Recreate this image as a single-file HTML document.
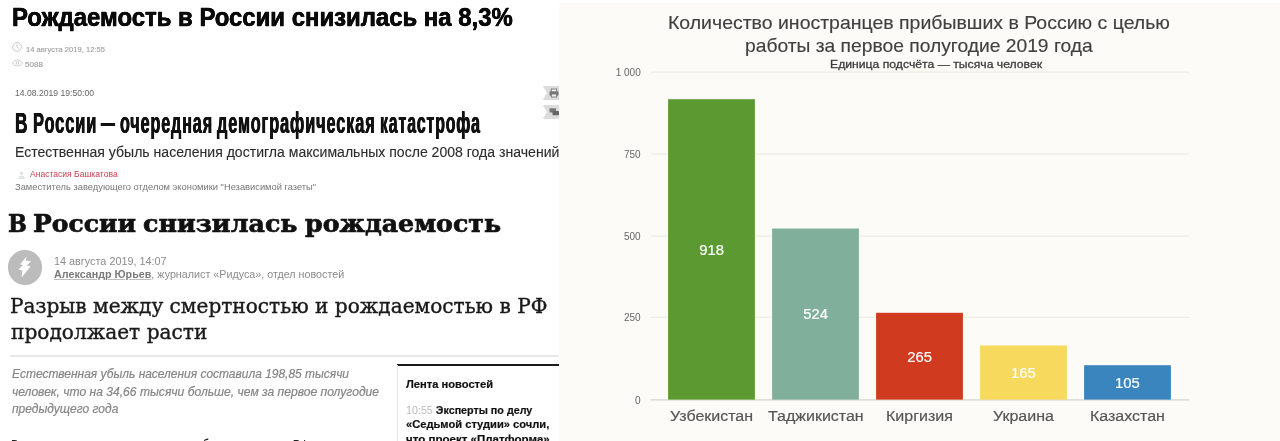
<!DOCTYPE html>
<html lang="ru">
<head>
<meta charset="utf-8">
<title>Рождаемость в России</title>
<style>
html,body{margin:0;padding:0;}
body{width:1280px;height:441px;overflow:hidden;background:#fff;position:relative;font-family:"Liberation Sans",sans-serif;}
.t{position:absolute;white-space:nowrap;line-height:1;transform-origin:0 0;margin:0;padding:0;}
#left{position:absolute;left:0;top:0;width:559px;height:441px;background:#fff;overflow:hidden;}
#right{position:absolute;left:559px;top:3px;width:721px;height:438px;background:#fcfbf7;overflow:hidden;}
#rin{position:absolute;left:0;top:-3px;width:721px;height:441px;}
.g{margin:0;padding:0;font:inherit;}
</style>
</head>
<body>
<div id="left">
  <h1 class="t" style="left:12.14px;top:4.31px;font-family:'Liberation Sans',sans-serif;font-size:26.4px;font-weight:bold;color:#0a0a0a;-webkit-text-stroke:0.3px #0a0a0a;text-shadow:0.3px 0 0 #0a0a0a,-0.3px 0 0 #0a0a0a;transform:scaleX(0.9060);">Рождаемость в России снизилась на 8,3%</h1>
  <svg style="position:absolute;left:12.1px;top:42.1px" width="10" height="10" viewBox="0 0 10 10"><circle cx="5" cy="5" r="4.3" fill="none" stroke="#c6c6c6" stroke-width="0.9"/><path d="M5 2.2V5.2L7 6.6" fill="none" stroke="#c6c6c6" stroke-width="0.9"/></svg>
  <span class="t" style="left:25.73px;top:45.81px;font-family:'Liberation Sans',sans-serif;font-size:8px;color:#a2a2a2;-webkit-text-stroke:0.15px #a2a2a2;transform:scaleX(0.9495);">14 августа 2019, 12:55</span>
  <svg style="position:absolute;left:12px;top:59.2px" width="11" height="8" viewBox="0 0 11 8"><path d="M0.5 4C2 1.9 3.6 1 5.5 1S9 1.9 10.5 4C9 6.1 7.4 7 5.5 7S2 6.1 0.5 4Z" fill="none" stroke="#c6c6c6" stroke-width="0.9"/><circle cx="5.5" cy="4" r="1.3" fill="none" stroke="#c6c6c6" stroke-width="0.9"/></svg>
  <span class="t" style="left:25.29px;top:60.90px;font-family:'Liberation Sans',sans-serif;font-size:8px;color:#a2a2a2;-webkit-text-stroke:0.15px #a2a2a2;transform:scaleX(1.0118);">5088</span>
  <span class="t" style="left:14.78px;top:89.00px;font-family:'Liberation Sans',sans-serif;font-size:9px;color:#666;transform:scaleX(0.9571);">14.08.2019 19:50:00</span>
  <svg style="position:absolute;left:542px;top:86.2px" width="17" height="14" viewBox="0 0 17 15" preserveAspectRatio="none"><path d="M0.8 0H17V15H0.8L5 7.5Z" fill="#dcdcdc"/><rect x="7.5" y="5.5" width="9" height="5" rx="1" fill="#777"/><rect x="9.3" y="3.2" width="5.4" height="3" fill="#eee" stroke="#777" stroke-width="0.9"/><rect x="9.3" y="8.6" width="5.4" height="3.2" fill="#eee" stroke="#777" stroke-width="0.9"/></svg>
  <svg style="position:absolute;left:542px;top:105.2px" width="17" height="14" viewBox="0 0 17 15" preserveAspectRatio="none"><path d="M0.8 0H17V15H0.8L5 7.5Z" fill="#dcdcdc"/><rect x="7.5" y="3.5" width="6.5" height="4.6" rx="0.8" fill="#777"/><rect x="10.5" y="6.5" width="6.5" height="4.6" rx="0.8" fill="#666"/></svg>
  <h2 class="g">
    <span class="t" style="left:14.90px;top:108.71px;font-family:'Liberation Sans',sans-serif;font-size:28.6px;font-weight:bold;color:#111;-webkit-text-stroke:0.2px #111;text-shadow:0.5px 0 0 #111,-0.5px 0 0 #111;letter-spacing:1.6px;transform:scaleX(0.6027);">В </span>
    <span class="t" style="left:32.64px;top:108.71px;font-family:'Liberation Sans',sans-serif;font-size:28.6px;font-weight:bold;color:#111;-webkit-text-stroke:0.2px #111;text-shadow:0.5px 0 0 #111,-0.5px 0 0 #111;letter-spacing:1.6px;transform:scaleX(0.5730);">России </span>
    <span class="t" style="left:100.74px;top:108.71px;font-family:'Liberation Sans',sans-serif;font-size:28.6px;font-weight:bold;color:#111;-webkit-text-stroke:0.2px #111;text-shadow:0.5px 0 0 #111,-0.5px 0 0 #111;letter-spacing:1.6px;transform:scaleX(0.4847);">— </span>
    <span class="t" style="left:120.02px;top:108.71px;font-family:'Liberation Sans',sans-serif;font-size:28.6px;font-weight:bold;color:#111;-webkit-text-stroke:0.2px #111;text-shadow:0.5px 0 0 #111,-0.5px 0 0 #111;letter-spacing:1.6px;transform:scaleX(0.5635);">очередная </span>
    <span class="t" style="left:217.14px;top:108.71px;font-family:'Liberation Sans',sans-serif;font-size:28.6px;font-weight:bold;color:#111;-webkit-text-stroke:0.2px #111;text-shadow:0.5px 0 0 #111,-0.5px 0 0 #111;letter-spacing:1.6px;transform:scaleX(0.5692);">демографическая </span>
    <span class="t" style="left:380.37px;top:108.71px;font-family:'Liberation Sans',sans-serif;font-size:28.6px;font-weight:bold;color:#111;-webkit-text-stroke:0.2px #111;text-shadow:0.5px 0 0 #111,-0.5px 0 0 #111;letter-spacing:1.6px;transform:scaleX(0.5543);">катастрофа</span>
  </h2>
  <p class="t" style="left:14.90px;top:145.00px;font-family:'Liberation Sans',sans-serif;font-size:14px;color:#2c2c2c;-webkit-text-stroke:0.12px #2c2c2c;transform:scaleX(1.0040);">Естественная убыль населения достигла максимальных после 2008 года значений</p>
  <svg style="position:absolute;left:18px;top:171px" width="7" height="8" viewBox="0 0 7 8"><circle cx="3.5" cy="2.2" r="1.8" fill="#e4e4e4"/><path d="M0.3 8C0.3 5.4 1.6 4.4 3.5 4.4S6.7 5.4 6.7 8Z" fill="#e4e4e4"/></svg>
  <span class="t" style="left:29.90px;top:170.31px;font-family:'Liberation Sans',sans-serif;font-size:9px;color:#c8414f;transform:scaleX(0.9507);">Анастасия Башкатова</span>
  <span class="t" style="left:14.74px;top:183.40px;font-family:'Liberation Sans',sans-serif;font-size:9px;color:#777;transform:scaleX(1.0362);">Заместитель заведующего отделом экономики &quot;Независимой газеты&quot;</span>
  <h1 class="g">
    <span class="t" style="left:7.82px;top:211.60px;font-family:'DejaVu Serif','Liberation Serif',serif;font-size:24.6px;font-weight:bold;color:#111;-webkit-text-stroke:0.7px #111;transform:scaleX(0.9105);">В </span>
    <span class="t" style="left:32.74px;top:211.60px;font-family:'DejaVu Serif','Liberation Serif',serif;font-size:24.6px;font-weight:bold;color:#111;-webkit-text-stroke:0.7px #111;transform:scaleX(1.0160);">России </span>
    <span class="t" style="left:143.43px;top:211.60px;font-family:'DejaVu Serif','Liberation Serif',serif;font-size:24.6px;font-weight:bold;color:#111;-webkit-text-stroke:0.7px #111;transform:scaleX(1.0292);">снизилась </span>
    <span class="t" style="left:304.54px;top:211.60px;font-family:'DejaVu Serif','Liberation Serif',serif;font-size:24.6px;font-weight:bold;color:#111;-webkit-text-stroke:0.7px #111;transform:scaleX(1.0260);">рождаемость</span>
  </h1>
  <div style="position:absolute;left:7.7px;top:249.8px;width:34.6px;height:34.8px;border-radius:50%;background:#bcbcbc;"></div>
  <svg style="position:absolute;left:17px;top:255px" width="16" height="24" viewBox="0 0 16 24"><path d="M9.6 1.2L3.2 9.2L6 10.2L1.4 14.6L5.4 15.6L4.6 22.6L13.6 11.4L10 10.4L13.8 6.2L8.6 5.6Z" fill="#fff"/></svg>
  <span class="t" style="left:54.46px;top:256.00px;font-family:'Liberation Sans',sans-serif;font-size:11px;color:#8c8c8c;transform:scaleX(0.9850);">14 августа 2019, 14:07</span>
  <span class="t" style="left:54.14px;top:268.50px;font-family:'Liberation Sans',sans-serif;font-size:10.5px;color:#8c8c8c;transform:scaleX(1.0225);"><b style="text-decoration:underline;text-decoration-color:#bdbdbd;color:#7a7a7a;">Александр Юрьев</b>, журналист «Ридуса», отдел новостей</span>
  <h2 class="t" style="left:9.94px;top:295.71px;font-family:'DejaVu Serif','Liberation Serif',serif;font-size:21px;font-weight:normal;color:#1a1a1a;-webkit-text-stroke:0.4px #1a1a1a;transform:scaleX(0.9569);">Разрыв между смертностью и рождаемостью в РФ</h2>
  <h2 class="t" style="left:10.52px;top:321.90px;font-family:'DejaVu Serif','Liberation Serif',serif;font-size:21px;font-weight:normal;color:#1a1a1a;-webkit-text-stroke:0.4px #1a1a1a;transform:scaleX(0.9582);">продолжает расти</h2>
  <div style="position:absolute;left:9.5px;top:355.3px;width:550px;height:1.5px;background:#e9e9e9;"></div>
  <p class="t" style="left:12.06px;top:368.21px;font-family:'Liberation Sans',sans-serif;font-size:12.5px;font-style:italic;color:#858585;-webkit-text-stroke:0.2px #858585;transform:scaleX(0.9566);">Естественная убыль населения составила 198,85 тысячи</p>
  <p class="t" style="left:11.57px;top:386.00px;font-family:'Liberation Sans',sans-serif;font-size:12.5px;font-style:italic;color:#858585;-webkit-text-stroke:0.2px #858585;transform:scaleX(0.9667);">человек, что на 34,66 тысячи больше, чем за первое полугодие</p>
  <p class="t" style="left:12.06px;top:403.31px;font-family:'Liberation Sans',sans-serif;font-size:12.5px;font-style:italic;color:#858585;-webkit-text-stroke:0.2px #858585;transform:scaleX(0.9609);">предыдущего года</p>
  <p class="t" style="left:11.35px;top:437.21px;font-family:'Liberation Sans',sans-serif;font-size:15px;color:#222;transform:scaleX(0.7629);">В первом полугодии естественная убыль населения РФ</p>
  <div style="position:absolute;left:397px;top:363.8px;width:162px;height:1.8px;background:#1a1a1a;"></div>
  <div style="position:absolute;left:397px;top:365px;width:1px;height:80px;background:#e4e4e4;"></div>
  <h3 class="t" style="left:406.40px;top:378.00px;font-family:'Liberation Sans',sans-serif;font-size:11.6px;font-weight:bold;color:#111;-webkit-text-stroke:0.2px #111;transform:scaleX(0.9611);">Лента новостей</h3>
  <p class="t" style="left:405.67px;top:404.60px;font-family:'Liberation Sans',sans-serif;font-size:11px;font-weight:bold;color:#111;-webkit-text-stroke:0.2px #111;transform:scaleX(0.9748);"><span style="font-weight:normal;color:#bbb;-webkit-text-stroke:0;">10:55</span> Эксперты по делу</p>
  <p class="t" style="left:405.89px;top:419.31px;font-family:'Liberation Sans',sans-serif;font-size:11px;font-weight:bold;color:#111;-webkit-text-stroke:0.2px #111;transform:scaleX(1.0125);">«Седьмой студии» сочли,</p>
  <p class="t" style="left:406.14px;top:434.00px;font-family:'Liberation Sans',sans-serif;font-size:11px;font-weight:bold;color:#111;-webkit-text-stroke:0.2px #111;transform:scaleX(1.0484);">что проект «Платформа»</p>
</div>

<div id="right"><div id="rin">
  <h2 class="t" style="left:108.92px;top:14.40px;font-family:'Liberation Sans',sans-serif;font-size:18.5px;font-weight:normal;color:#404040;-webkit-text-stroke:0.15px #404040;transform:scaleX(1.0527);">Количество иностранцев прибывших в Россию с целью</h2>
  <h2 class="t" style="left:185.76px;top:37.40px;font-family:'Liberation Sans',sans-serif;font-size:18.5px;font-weight:normal;color:#404040;-webkit-text-stroke:0.15px #404040;transform:scaleX(1.0407);">работы за первое полугодие 2019 года</h2>
  <p class="t" style="left:270.70px;top:59.31px;font-family:'Liberation Sans',sans-serif;font-size:11.5px;color:#3c3c3c;-webkit-text-stroke:0.3px #3c3c3c;transform:scaleX(1.0602);">Единица подсчёта — тысяча человек</p>
  <svg style="position:absolute;left:0;top:0" width="721" height="441" viewBox="0 0 721 441">
    <g stroke="#e9e8e4" stroke-width="1">
      <line x1="92" x2="630" y1="72.1" y2="72.1"/>
      <line x1="92" x2="630" y1="154.1" y2="154.1"/>
      <line x1="92" x2="630" y1="236.1" y2="236.1"/>
      <line x1="92" x2="630" y1="317.2" y2="317.2"/>
    </g>
    <line x1="91.5" x2="630" y1="399.9" y2="399.9" stroke="#cbcac7" stroke-width="1"/>
    <rect x="109.1" y="99.20" width="86.8" height="300.40" fill="#5b9a31"/>
    <rect x="213.1" y="228.50" width="86.8" height="171.10" fill="#80b09c"/>
    <rect x="317.1" y="312.80" width="86.8" height="86.80" fill="#d03a1f"/>
    <rect x="421.1" y="345.50" width="86.8" height="54.10" fill="#f7d95d"/>
    <rect x="525.1" y="365.20" width="86.8" height="34.40" fill="#3a85be"/>
  </svg>
  <span class="t" style="left:56.70px;top:67.71px;font-family:'Liberation Sans',sans-serif;font-size:10px;color:#666;">1 000</span>
  <span class="t" style="left:64.95px;top:149.71px;font-family:'Liberation Sans',sans-serif;font-size:10px;color:#666;">750</span>
  <span class="t" style="left:64.95px;top:231.71px;font-family:'Liberation Sans',sans-serif;font-size:10px;color:#666;">500</span>
  <span class="t" style="left:64.95px;top:313.21px;font-family:'Liberation Sans',sans-serif;font-size:10px;color:#666;">250</span>
  <span class="t" style="left:75.95px;top:395.60px;font-family:'Liberation Sans',sans-serif;font-size:10px;color:#666;">0</span>
  <span class="t" style="left:140.33px;top:242.81px;font-family:'Liberation Sans',sans-serif;font-size:14.8px;color:#fff;-webkit-text-stroke:0.2px #fff;">918</span>
  <span class="t" style="left:244.20px;top:307.46px;font-family:'Liberation Sans',sans-serif;font-size:14.8px;color:#fff;-webkit-text-stroke:0.2px #fff;">524</span>
  <span class="t" style="left:348.33px;top:349.60px;font-family:'Liberation Sans',sans-serif;font-size:14.8px;color:#fff;-webkit-text-stroke:0.2px #fff;">265</span>
  <span class="t" style="left:452.08px;top:365.96px;font-family:'Liberation Sans',sans-serif;font-size:14.8px;color:#fff;-webkit-text-stroke:0.2px #fff;">165</span>
  <span class="t" style="left:556.08px;top:375.81px;font-family:'Liberation Sans',sans-serif;font-size:14.8px;color:#fff;-webkit-text-stroke:0.2px #fff;">105</span>
  <span class="t" style="left:111.22px;top:407.50px;font-family:'Liberation Sans',sans-serif;font-size:15.3px;color:#555;-webkit-text-stroke:0.2px #555;transform:scaleX(1.0450);">Узбекистан</span>
  <span class="t" style="left:209.08px;top:407.50px;font-family:'Liberation Sans',sans-serif;font-size:15.3px;color:#555;-webkit-text-stroke:0.2px #555;transform:scaleX(1.0450);">Таджикистан</span>
  <span class="t" style="left:326.93px;top:407.50px;font-family:'Liberation Sans',sans-serif;font-size:15.3px;color:#555;-webkit-text-stroke:0.2px #555;transform:scaleX(1.0450);">Киргизия</span>
  <span class="t" style="left:433.80px;top:407.50px;font-family:'Liberation Sans',sans-serif;font-size:15.3px;color:#555;-webkit-text-stroke:0.2px #555;transform:scaleX(1.0450);">Украина</span>
  <span class="t" style="left:530.88px;top:407.50px;font-family:'Liberation Sans',sans-serif;font-size:15.3px;color:#555;-webkit-text-stroke:0.2px #555;transform:scaleX(1.0450);">Казахстан</span>
</div></div>
</body>
</html>
